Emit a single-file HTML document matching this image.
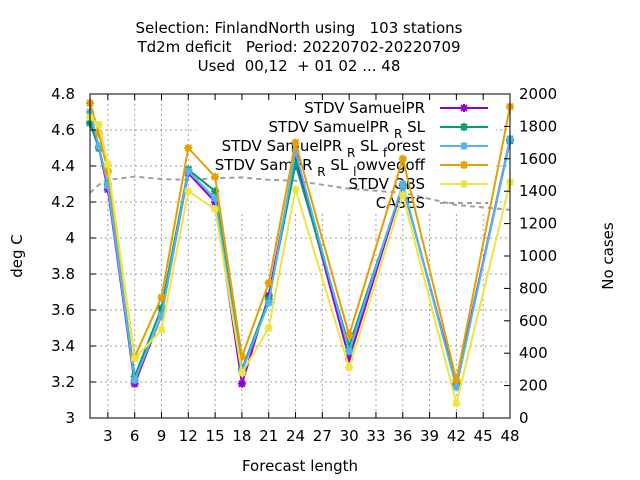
<!DOCTYPE html>
<html><head><meta charset="utf-8"><style>
body{margin:0;background:#fff}
svg{display:block;font-family:"DejaVu Sans","Liberation Sans",sans-serif}
text{white-space:pre}
</style></head><body>
<svg id="chart" width="640" height="480" viewBox="0 0 640 480"></svg>
<script>
const hours=[1,2,3,6,9,12,15,18,21,24,30,36,42,48];
const sPurple=[4.64,4.50,4.27,3.19,3.57,4.36,4.20,3.19,3.68,4.45,3.33,4.29,3.19,4.55];
const sGreen=[4.64,4.50,4.30,3.23,3.61,4.38,4.26,3.27,3.66,4.41,3.40,4.29,3.18,4.54];
const sBlue=[4.70,4.51,4.29,3.21,3.57,4.37,4.22,3.26,3.64,4.48,3.37,4.30,3.17,4.55];
const sOrange=[4.75,4.58,4.37,3.34,3.67,4.50,4.34,3.34,3.75,4.53,3.46,4.44,3.21,4.73];
const sYellow=[4.67,4.63,4.41,3.33,3.49,4.26,4.16,3.25,3.50,4.27,3.28,4.24,3.08,4.31];
const cases=[1390,1440,1470,1490,1475,1470,1480,1485,1470,1465,1415,1390,1315,1285];
const xTicks=[3,6,9,12,15,18,21,24,27,30,33,36,39,42,45,48];
const yTicks=[3,3.2,3.4,3.6,3.8,4,4.2,4.4,4.6,4.8];
const y2Ticks=[0,200,400,600,800,1000,1200,1400,1600,1800,2000];
const L=90,R=510,T=94,B=418;
const X=h=>L+(h-1)*(R-L)/47;
const Y=v=>B-(v-3)*(B-T)/1.8;
const Y2=n=>B-n*(B-T)/2000;
const svg=document.getElementById('chart');
const NS='http://www.w3.org/2000/svg';
function mk(tag,attrs,parent){const e=document.createElementNS(NS,tag);for(const k in attrs)e.setAttribute(k,attrs[k]);(parent||svg).appendChild(e);return e;}
function txt(s,x,y,anchor,extra){const t=mk('text',Object.assign({x:x,y:y,'font-size':15,'text-anchor':anchor||'middle',fill:'#000'},extra||{}));t.textContent=s;return t;}
const titles=["Selection: FinlandNorth using   103 stations","Td2m deficit   Period: 20220702-20220709","Used  00,12  + 01 02 ... 48"];
titles.forEach((s,i)=>{const t=txt(s,299,33+i*19,'middle');

});
const grid=mk('g',{stroke:'#a0a0a0','stroke-width':1,'stroke-dasharray':'2,3'});


xTicks.forEach(h=>mk('line',{x1:X(h),x2:X(h),y1:T,y2:B},grid));
yTicks.slice(1,-1).forEach(v=>mk('line',{x1:L,x2:R,y1:Y(v),y2:Y(v)},grid));
const lgbg=mk('rect',{x:196,y:96,width:300,height:117,fill:'#fff'});


const cp=mk('polyline',{points:hours.map((h,i)=>X(h)+','+Y2(cases[i])).join(' '),fill:'none',stroke:'#a0a0a0','stroke-width':2,'stroke-dasharray':'5,4'});


const colors=['#9400d3','#009e73','#56b4e9','#e69f00','#f0e442'];
const data=[sPurple,sGreen,sBlue,sOrange,sYellow];
function star(g,x,y,c){mk('path',{d:`M${x-4},${y}h8M${x},${y-4}v8M${x-3},${y-3}l6,6M${x-3},${y+3}l6,-6`,stroke:c,'stroke-width':2,fill:'none'},g);}
const lg=mk('g',{});


const labels=[["STDV SamuelPR"],["STDV SamuelPR ","R"," SL"],["STDV SamuelPR ","R"," SL ","f","orest"],["STDV SamPR ","R"," SL ","l","owvegoff"],["STDV OBS"],["CASES"]];
labels.forEach((parts,i)=>{const y=108+i*19;
const t=mk('text',{x:425,y:y+5,'font-size':15,'text-anchor':'end',fill:'#000'},lg);
parts.forEach((p,j)=>{const ts=mk('tspan',{},t);ts.textContent=p;if(j%2===1){ts.setAttribute('dy',6);ts.setAttribute('font-size',12);}else if(j>0){ts.setAttribute('dy',-6);}});


if(i<5){mk('line',{x1:440,x2:488,y1:y,y2:y,stroke:colors[i],'stroke-width':2},lg);star(lg,464,y,colors[i]);}
else mk('line',{x1:440,x2:488,y1:y,y2:y,stroke:'#a0a0a0','stroke-width':2,'stroke-dasharray':'5,4'},lg);});
data.forEach((d,si)=>{const g=mk('g',{});


mk('polyline',{points:hours.map((h,i)=>X(h)+','+Y(d[i])).join(' '),fill:'none',stroke:colors[si],'stroke-width':2},g);
hours.forEach((h,i)=>star(g,X(h),Y(d[i]),colors[si]));});
const ax=mk('g',{stroke:'#000','stroke-width':1,fill:'none'});


mk('rect',{x:L,y:T,width:R-L,height:B-T},ax);
xTicks.forEach(h=>{mk('line',{x1:X(h),x2:X(h),y1:B,y2:B-6},ax);mk('line',{x1:X(h),x2:X(h),y1:T,y2:T+6},ax);
const t=txt(String(h),X(h),441);});
yTicks.forEach(v=>{mk('line',{x1:L,x2:L+6,y1:Y(v),y2:Y(v)},ax);
const t=txt(String(v),75,Y(v)+5,'end');});
y2Ticks.forEach(n=>{mk('line',{x1:R,x2:R-6,y1:Y2(n),y2:Y2(n)},ax);
const t=txt(String(n),519,Y2(n)+5,'start');});
const xl=txt('Forecast length',300,471);
const yl=txt('deg C',22,256,'middle',{transform:'rotate(-90 22 256)'});
const y2l=txt('No cases',613,256,'middle',{transform:'rotate(-90 613 256)'});
</script>
</body></html>
